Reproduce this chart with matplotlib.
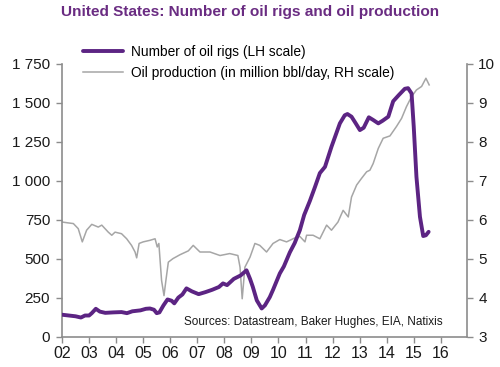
import matplotlib
matplotlib.use('Agg')
import matplotlib.pyplot as plt
from matplotlib.ticker import FuncFormatter

plt.rcParams['font.family'] = ['Liberation Sans', 'DejaVu Sans']

# Number of oil rigs (LH scale)
rig_years = [2002.0, 2002.25, 2002.5, 2002.7, 2002.85, 2003.0, 2003.1, 2003.25, 2003.4, 2003.6,
             2003.9, 2004.2, 2004.4, 2004.6, 2004.9, 2005.1, 2005.25, 2005.4, 2005.5, 2005.6,
             2005.75, 2005.9, 2006.05, 2006.15, 2006.3, 2006.45, 2006.6, 2006.8, 2007.05, 2007.3,
             2007.55, 2007.8, 2007.95, 2008.1, 2008.35, 2008.6, 2008.82, 2008.95, 2009.05, 2009.2,
             2009.38, 2009.5, 2009.68, 2009.8, 2010.05, 2010.2, 2010.42, 2010.6, 2010.79, 2010.95,
             2011.16, 2011.35, 2011.53, 2011.72, 2011.96, 2012.27, 2012.45, 2012.55, 2012.7, 2012.85,
             2013.01, 2013.15, 2013.34, 2013.5, 2013.69, 2013.85, 2014.06, 2014.24, 2014.45, 2014.67,
             2014.79, 2014.92, 2015.0, 2015.1, 2015.23, 2015.35, 2015.45, 2015.55]
rig_counts = [140, 135, 130, 122, 135, 135, 150, 178, 160, 152,
              155, 157, 150, 162, 168, 178, 180, 172, 150, 155,
              200, 238, 230, 213, 250, 270, 309, 290, 272, 285,
              300, 318, 341, 330, 370, 392, 425, 370, 320, 232,
              180, 200, 253, 300, 405, 450, 540, 600, 682, 780,
              870, 960, 1049, 1089, 1218, 1368, 1420, 1428, 1411, 1370,
              1325, 1340, 1407, 1390, 1368, 1385, 1411, 1510, 1550, 1590,
              1594, 1560, 1347, 1025, 768, 645, 650, 672]

# Oil production, million bbl/day (RH scale)
prod_years = [2002.0, 2002.2, 2002.42, 2002.6, 2002.75, 2002.91, 2003.1, 2003.34, 2003.47, 2003.71,
              2003.84, 2003.96, 2004.2, 2004.39, 2004.57, 2004.7, 2004.76, 2004.85, 2005.0, 2005.25,
              2005.44, 2005.52, 2005.58, 2005.68, 2005.77, 2005.84, 2005.93, 2006.1, 2006.36, 2006.67,
              2006.85, 2007.1, 2007.47, 2007.84, 2008.2, 2008.5, 2008.58, 2008.66, 2008.76, 2008.95,
              2009.13, 2009.31, 2009.56, 2009.8, 2010.05, 2010.3, 2010.54, 2010.67, 2010.79, 2010.98,
              2011.04, 2011.28, 2011.53, 2011.78, 2011.96, 2012.2, 2012.39, 2012.58, 2012.7, 2012.89,
              2013.07, 2013.26, 2013.38, 2013.5, 2013.69, 2013.87, 2014.12, 2014.36, 2014.55, 2014.73,
              2014.92, 2015.1, 2015.29, 2015.45, 2015.57]
prod_values = [5.94, 5.92, 5.90, 5.77, 5.43, 5.73, 5.88, 5.81, 5.86, 5.68,
               5.60, 5.68, 5.64, 5.51, 5.34, 5.17, 5.02, 5.39, 5.43, 5.47,
               5.51, 5.30, 5.39, 4.44, 4.05, 4.44, 4.91, 5.00, 5.10, 5.20,
               5.34, 5.17, 5.17, 5.08, 5.13, 5.08, 4.78, 3.97, 4.78, 5.04,
               5.39, 5.34, 5.17, 5.39, 5.49, 5.43, 5.51, 5.55, 5.57, 5.43,
               5.60, 5.60, 5.51, 5.86, 5.73, 5.94, 6.24, 6.07, 6.58, 6.89,
               7.06, 7.23, 7.27, 7.44, 7.83, 8.09, 8.15, 8.39, 8.60, 8.90,
               9.16, 9.33, 9.42, 9.63, 9.46]

year_ticks = list(range(2002, 2017))
year_labels = ['%02d' % (y % 100) for y in year_ticks]

purple = '#5c2483'
grey_line = '#a6a6a6'
spine_col = '#8c8c8c'

fig = plt.figure(figsize=(5.0, 3.67), dpi=100)
ax = fig.add_axes([0.124, 0.083, 0.809, 0.743])
ax2 = ax.twinx()

ax.plot(rig_years, rig_counts, color=purple, lw=2.8, solid_capstyle='round', zorder=3,
        label='Number of oil rigs (LH scale)')
ax2.plot(prod_years, prod_values, color=grey_line, lw=1.1, zorder=2,
         label='Oil production (in million bbl/day, RH scale)')
ax.set_zorder(ax2.get_zorder() + 1)
ax.patch.set_visible(False)

ax.set_xlim(2002, 2016.95)
ax.set_ylim(0, 1750)
ax2.set_ylim(3, 10)
ax.set_yticks(range(0, 1751, 250))
ax.yaxis.set_major_formatter(FuncFormatter(lambda v, p: format(int(v), ',').replace(',', ' ')))
ax2.set_yticks(range(3, 11))
ax.set_xticks(year_ticks)
ax.set_xticklabels(year_labels)

for a in (ax, ax2):
    a.spines['top'].set_visible(False)
    for s in ('left', 'right', 'bottom'):
        a.spines[s].set_color(spine_col)
        a.spines[s].set_linewidth(1.2)
    a.tick_params(colors=spine_col, labelcolor='#1a1a1a', labelsize=11, length=4.5, width=1)
ax.spines['right'].set_visible(False)
ax2.spines['left'].set_visible(False)
ax2.spines['bottom'].set_visible(False)
ax.tick_params(axis='x', pad=2.5, labelsize=11.5)
ax.tick_params(axis='y', pad=4)
ax2.tick_params(axis='y', pad=4)

h1, l1 = ax.get_legend_handles_labels()
h2, l2 = ax2.get_legend_handles_labels()
leg = ax.legend(h1 + h2, l1 + l2, loc='upper left', bbox_to_anchor=(0.039, 1.09),
                frameon=False, fontsize=9.9, handlelength=2.9, handletextpad=0.55,
                labelspacing=0.5, borderaxespad=0)

ax.text(0.94, 0.055, 'Sources: Datastream, Baker Hughes, EIA, Natixis', transform=ax.transAxes,
        ha='right', va='center', fontsize=8.5, color='#1a1a1a')

fig.text(0.5, 0.967, 'United States: Number of oil rigs and oil production', ha='center', va='center',
         fontsize=11.1, fontweight='bold', color='#6a2c82')

fig.savefig('out.png', dpi=100)
